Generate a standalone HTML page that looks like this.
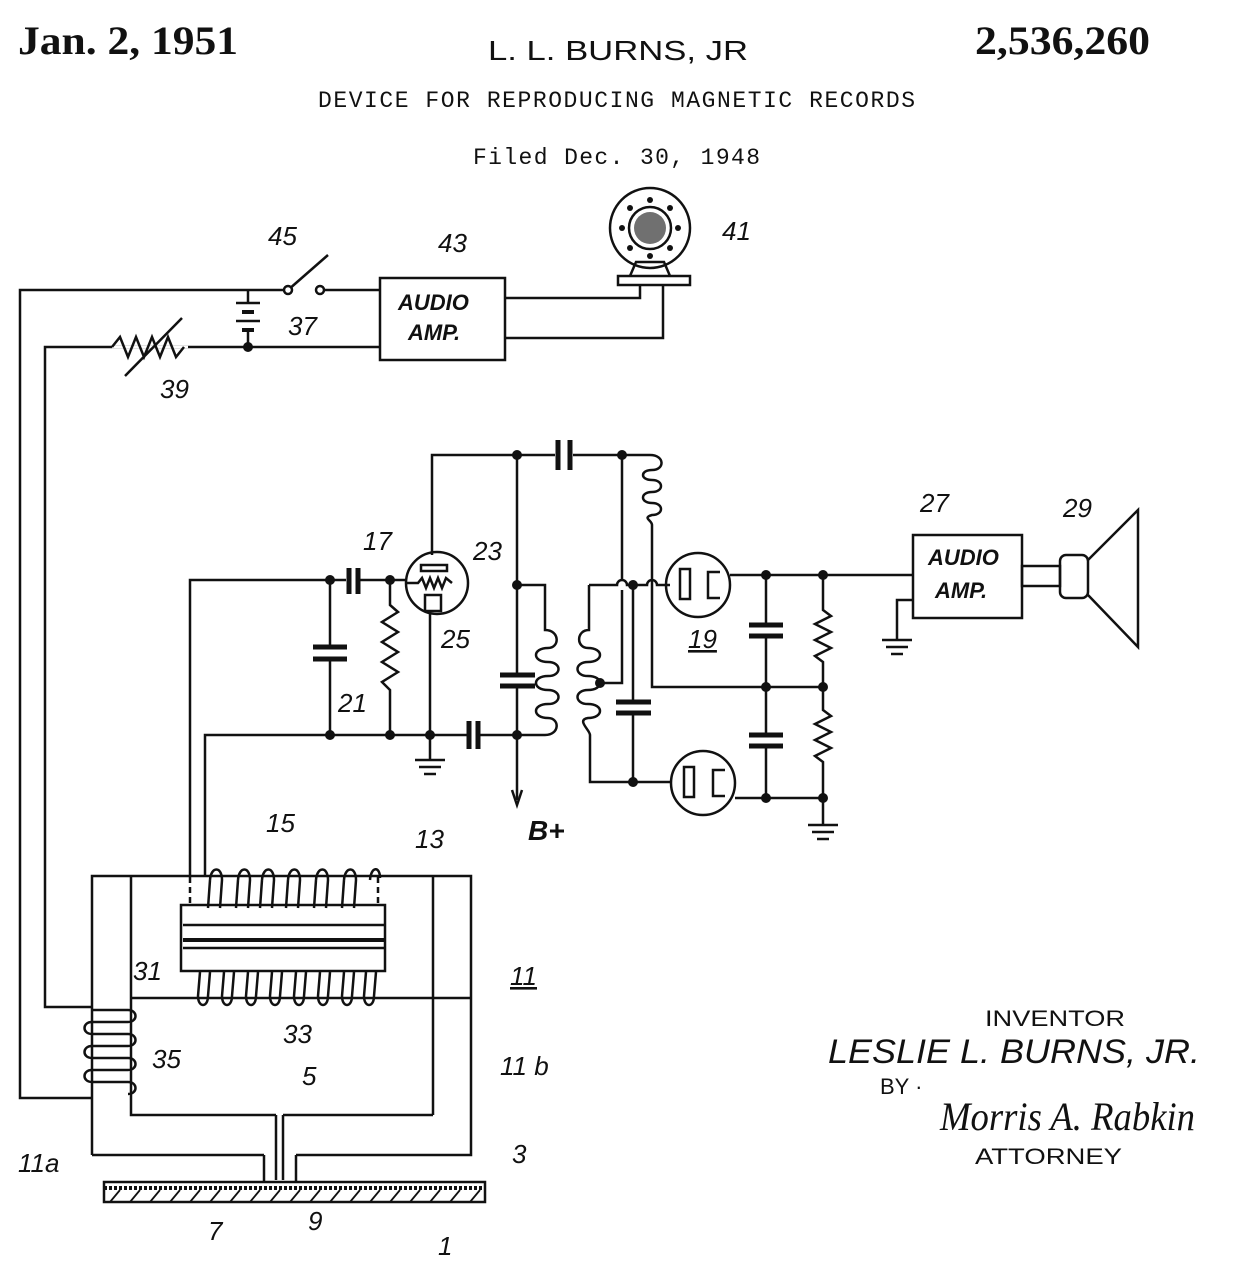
<!DOCTYPE html>
<html><head><meta charset="utf-8"><style>
html,body{margin:0;padding:0;background:#fff;}
svg{display:block}
.t{font-family:"Liberation Sans",sans-serif;font-style:italic;font-size:26px;fill:#111}
</style></head><body>
<svg width="1237" height="1280" viewBox="0 0 1237 1280" xmlns="http://www.w3.org/2000/svg">
<g fill="#111">
<text x="18" y="54" font-family="Liberation Serif" font-weight="bold" font-size="40" textLength="220" lengthAdjust="spacingAndGlyphs">Jan. 2, 1951</text>
<text x="488" y="60" font-family="Liberation Sans" font-size="28" textLength="260" lengthAdjust="spacingAndGlyphs">L. L. BURNS, JR</text>
<text x="975" y="54" font-family="Liberation Serif" font-weight="bold" font-size="40" textLength="175" lengthAdjust="spacingAndGlyphs">2,536,260</text>
<text x="318" y="107" font-family="Liberation Mono" font-size="23" textLength="597">DEVICE FOR REPRODUCING MAGNETIC RECORDS</text>
<text x="473" y="164" font-family="Liberation Mono" font-size="23" textLength="287">Filed Dec. 30, 1948</text>
</g>
<g stroke="#111" stroke-width="2.5" fill="none">
<polyline points="288,290 20,290 20,1098 92,1098"/>
<polyline points="380,347 45,347 45,1007 92,1007"/>
<line x1="320" y1="290" x2="380" y2="290"/>
<line x1="288" y1="290" x2="328" y2="255"/>
<circle cx="288" cy="290" r="4" fill="#fff"/><circle cx="320" cy="290" r="4" fill="#fff"/>
<line x1="248" y1="290" x2="248" y2="303"/><line x1="236" y1="303" x2="260" y2="303"/>
<line x1="242" y1="312" x2="254" y2="312" stroke-width="4"/><line x1="236" y1="321" x2="260" y2="321"/>
<line x1="242" y1="330" x2="254" y2="330" stroke-width="4"/><line x1="248" y1="330" x2="248" y2="347"/>
<rect x="380" y="278" width="125" height="82" fill="#fff"/>
<polyline points="505,298 640,298 640,285"/><polyline points="505,338 663,338 663,285"/>
<polyline stroke="#fff" points="112,347 188,347"/>
<polyline points="112,347 120,337 128,357 136,337 144,357 152,337 160,357 168,337 176,357 184,347"/>
<line x1="125" y1="376" x2="182" y2="318"/>
<circle cx="650" cy="228" r="40"/><circle cx="650" cy="228" r="21"/>
<rect x="618" y="276" width="72" height="9" fill="#fff"/>
<path d="M630 276 L636 262 L664 262 L670 276"/>
<polyline points="432,555 432,455 555,455"/><polyline points="573,455 650,455"/>
<line x1="558" y1="440" x2="558" y2="470" stroke-width="5"/><line x1="570" y1="440" x2="570" y2="470" stroke-width="5"/>
<path d="M650 455 C665 455 665 470 652 470 C640 470 640 480 652 480 C664 480 664 492 652 492 C640 492 640 503 652 503 C664 503 664 515 652 515 C642 518 652 520 652 525 L652 687 L823 687"/>
<line x1="517" y1="455" x2="517" y2="675"/><line x1="517" y1="685" x2="517" y2="800"/>
<line x1="500" y1="675" x2="535" y2="675" stroke-width="5"/><line x1="500" y1="686" x2="535" y2="686" stroke-width="5"/>
<path d="M512 790 L517 805 L522 790"/>
<path d="M517 585 L545 585 L545 630 C560 630 560 648 548 648 C532 648 532 662 548 662 C562 662 562 676 548 676 C532 676 532 690 548 690 C562 690 562 704 548 704 C532 704 532 718 548 718 C560 718 560 735 545 735 L517 735"/>
<path d="M589 585 L589 630 C576 630 576 648 588 648 C604 648 604 662 588 662 C574 662 574 676 588 676 C604 676 604 690 588 690 C574 690 574 704 588 704 C604 704 604 718 588 718 C576 720 590 730 590 735 L590 782 L670 782"/>
<path d="M589 585 L617 585 A5 5 0 0 1 627 585 L633 585 L647 585 A5 5 0 0 1 657 585 L670 585"/>
<line x1="622" y1="455" x2="622" y2="580"/><path d="M622 590 L622 683 L600 683"/>
<line x1="633" y1="585" x2="633" y2="702"/><line x1="633" y1="712" x2="633" y2="782"/>
<line x1="616" y1="702" x2="651" y2="702" stroke-width="5"/><line x1="616" y1="713" x2="651" y2="713" stroke-width="5"/>
<circle cx="437" cy="583" r="31"/>
<rect x="421" y="565" width="26" height="6"/>
<polyline points="405,583 418,583 422,578 426,588 430,578 434,588 438,578 442,588 446,578 452,583"/>
<rect x="425" y="595" width="16" height="16"/>
<line x1="430" y1="611" x2="430" y2="760"/>
<line x1="415" y1="760" x2="445" y2="760"/><line x1="419" y1="767" x2="441" y2="767"/><line x1="424" y1="774" x2="436" y2="774"/>
<polyline points="190,877 190,580 346,580"/><polyline points="360,580 405,580"/>
<line x1="349" y1="568" x2="349" y2="594" stroke-width="5"/><line x1="358" y1="568" x2="358" y2="594" stroke-width="5"/>
<line x1="330" y1="580" x2="330" y2="647"/><line x1="330" y1="659" x2="330" y2="735"/>
<line x1="313" y1="647" x2="347" y2="647" stroke-width="5"/><line x1="313" y1="659" x2="347" y2="659" stroke-width="5"/>
<polyline points="390,580 390,605 398,612 382,622 398,632 382,642 398,652 382,662 398,672 382,682 390,690 390,735"/>
<polyline points="205,877 205,735 467,735"/><polyline points="480,735 517,735"/>
<line x1="469" y1="721" x2="469" y2="749" stroke-width="5"/><line x1="478" y1="721" x2="478" y2="749" stroke-width="5"/>
<circle cx="698" cy="585" r="32"/><rect x="680" y="569" width="10" height="30"/><polyline points="720,572 708,572 708,598 720,598"/>
<circle cx="703" cy="783" r="32"/><rect x="684" y="767" width="10" height="30"/><polyline points="725,770 713,770 713,796 725,796"/>
<line x1="730" y1="575" x2="913" y2="575"/><line x1="735" y1="798" x2="823" y2="798"/>
<line x1="766" y1="575" x2="766" y2="625"/><line x1="766" y1="636" x2="766" y2="735"/><line x1="766" y1="746" x2="766" y2="798"/>
<line x1="749" y1="625" x2="783" y2="625" stroke-width="5"/><line x1="749" y1="636" x2="783" y2="636" stroke-width="5"/>
<line x1="749" y1="735" x2="783" y2="735" stroke-width="5"/><line x1="749" y1="746" x2="783" y2="746" stroke-width="5"/>
<polyline points="823,575 823,610 831,616 815,624 831,632 815,640 831,648 815,656 823,662 823,710 831,716 815,724 831,732 815,740 831,748 815,756 823,762 823,825"/>
<line x1="808" y1="825" x2="838" y2="825"/><line x1="812" y1="832" x2="834" y2="832"/><line x1="817" y1="839" x2="829" y2="839"/>
<rect x="913" y="535" width="109" height="83" fill="#fff"/>
<polyline points="913,600 897,600 897,640"/>
<line x1="882" y1="640" x2="912" y2="640"/><line x1="886" y1="647" x2="908" y2="647"/><line x1="891" y1="654" x2="903" y2="654"/>
<rect x="1022" y="566" width="38" height="20"/>
<rect x="1060" y="555" width="28" height="43" rx="6"/>
<path d="M1088 560 L1138 510 L1138 647 L1088 595"/>
<polyline points="92,1155 92,876 471,876 471,1155 296,1155"/>
<line x1="92" y1="1155" x2="264" y2="1155"/>
<polyline points="131,876 131,998"/><line x1="131" y1="998" x2="471" y2="998"/>
<line x1="433" y1="876" x2="433" y2="1115"/>
<polyline points="131,998 131,1115 276,1115"/><line x1="283" y1="1115" x2="433" y2="1115"/>
<polyline points="264,1155 264,1182"/><polyline points="296,1155 296,1182"/>
<line x1="276" y1="1115" x2="276" y2="1180"/><line x1="283" y1="1115" x2="283" y2="1180"/>
<rect x="181" y="905" width="204" height="66" fill="#fff"/>
<line x1="183" y1="925" x2="385" y2="925"/><line x1="183" y1="940" x2="385" y2="940" stroke-width="4"/><line x1="183" y1="948" x2="385" y2="948"/>
<line x1="190" y1="877" x2="190" y2="905" stroke-dasharray="6,4"/><line x1="378" y1="877" x2="378" y2="905" stroke-dasharray="6,4"/>
<path d="M210 880 C211 866 222 866 222 880 L220 908 M238 880 C239 866 250 866 250 880 L248 908 M262 880 C263 866 274 866 274 880 L272 908 M288 880 C289 866 300 866 300 880 L298 908 M316 880 C317 866 328 866 328 880 L326 908 M344 880 C345 866 356 866 356 880 L354 908 M370 880 C371 866 380 866 380 878"/>
<path d="M210 880 L208 908 M238 880 L236 908 M262 880 L260 908 M288 880 L286 908 M316 880 L314 908 M344 880 L342 908"/>
<path d="M200 972 L198 996 C198 1008 208 1008 208 996 L210 972 M224 972 L222 996 C222 1008 232 1008 232 996 L234 972 M248 972 L246 996 C246 1008 256 1008 256 996 L258 972 M272 972 L270 996 C270 1008 280 1008 280 996 L282 972 M296 972 L294 996 C294 1008 304 1008 304 996 L306 972 M320 972 L318 996 C318 1008 328 1008 328 996 L330 972 M344 972 L342 996 C342 1008 352 1008 352 996 L354 972 M366 972 L364 996 C364 1008 374 1008 374 996 L376 972"/>
<path d="M92 1010 L128 1010 C138 1010 138 1022 128 1022 L92 1022 C82 1022 82 1034 92 1034 L128 1034 C138 1034 138 1046 128 1046 L92 1046 C82 1046 82 1058 92 1058 L128 1058 C138 1058 138 1070 128 1070 L92 1070 C82 1070 82 1082 92 1082 L128 1082 C138 1082 138 1094 128 1094"/>
<rect x="104" y="1182" width="381" height="20"/>
<line x1="104" y1="1188" x2="485" y2="1188" stroke-dasharray="3,2" stroke-width="4"/>
</g>
<g stroke="#111" stroke-width="1.8">
<path d="M110 1202 L120 1190 M130 1202 L140 1190 M150 1202 L160 1190 M170 1202 L180 1190 M190 1202 L200 1190 M210 1202 L220 1190 M230 1202 L240 1190 M250 1202 L260 1190 M270 1202 L280 1190 M290 1202 L300 1190 M310 1202 L320 1190 M330 1202 L340 1190 M350 1202 L360 1190 M370 1202 L380 1190 M390 1202 L400 1190 M410 1202 L420 1190 M430 1202 L440 1190 M450 1202 L460 1190 M470 1202 L480 1190"/>
</g>
<g fill="#111">
<circle cx="248" cy="347" r="5"/><circle cx="517" cy="455" r="5"/><circle cx="622" cy="455" r="5"/>
<circle cx="330" cy="580" r="5"/><circle cx="390" cy="580" r="5"/><circle cx="517" cy="585" r="5"/><circle cx="633" cy="585" r="5"/>
<circle cx="330" cy="735" r="5"/><circle cx="390" cy="735" r="5"/><circle cx="430" cy="735" r="5"/><circle cx="517" cy="735" r="5"/>
<circle cx="600" cy="683" r="5"/><circle cx="633" cy="782" r="5"/>
<circle cx="766" cy="575" r="5"/><circle cx="823" cy="575" r="5"/><circle cx="766" cy="687" r="5"/><circle cx="823" cy="687" r="5"/>
<circle cx="766" cy="798" r="5"/><circle cx="823" cy="798" r="5"/>
<circle cx="650" cy="228" r="16" opacity="0.6"/>
<circle cx="650" cy="200" r="3"/><circle cx="670" cy="208" r="3"/><circle cx="678" cy="228" r="3"/><circle cx="670" cy="248" r="3"/><circle cx="650" cy="256" r="3"/><circle cx="630" cy="248" r="3"/><circle cx="622" cy="228" r="3"/><circle cx="630" cy="208" r="3"/>
</g>
<g class="t" font-weight="bold">
<text x="398" y="310" font-size="22">AUDIO</text><text x="408" y="340" font-size="22">AMP.</text>
<text x="928" y="565" font-size="22">AUDIO</text><text x="935" y="598" font-size="22">AMP.</text>
<text x="528" y="840" font-size="28">B+</text>
</g>
<g class="t">
<text x="268" y="245">45</text><text x="438" y="252">43</text><text x="722" y="240">41</text>
<text x="288" y="335">37</text><text x="160" y="398">39</text>
<text x="363" y="550">17</text><text x="473" y="560">23</text><text x="441" y="648">25</text>
<text x="338" y="712">21</text><text x="688" y="648" text-decoration="underline">19</text>
<text x="920" y="512">27</text><text x="1063" y="517">29</text>
<text x="266" y="832">15</text><text x="415" y="848">13</text>
<text x="133" y="980">31</text><text x="283" y="1043">33</text>
<text x="510" y="985" text-decoration="underline">11</text><text x="152" y="1068">35</text>
<text x="302" y="1085">5</text><text x="500" y="1075">11 b</text>
<text x="18" y="1172">11a</text><text x="512" y="1163">3</text>
<text x="208" y="1240">7</text><text x="308" y="1230">9</text><text x="438" y="1255">1</text>
</g>
<g fill="#111">
<text x="985" y="1026" font-family="Liberation Sans" font-size="22" textLength="140" lengthAdjust="spacingAndGlyphs">INVENTOR</text>
<text x="828" y="1063" font-family="Liberation Sans" font-style="italic" font-size="34" textLength="372" lengthAdjust="spacingAndGlyphs">LESLIE L. BURNS, JR.</text>
<text x="880" y="1094" font-family="Liberation Sans" font-size="22">BY ·</text>
<text x="940" y="1130" font-family="Liberation Serif" font-style="italic" font-size="40" textLength="255" lengthAdjust="spacingAndGlyphs">Morris A. Rabkin</text>
<text x="975" y="1164" font-family="Liberation Sans" font-size="22" textLength="147" lengthAdjust="spacingAndGlyphs">ATTORNEY</text>
</g>
</svg>
</body></html>
